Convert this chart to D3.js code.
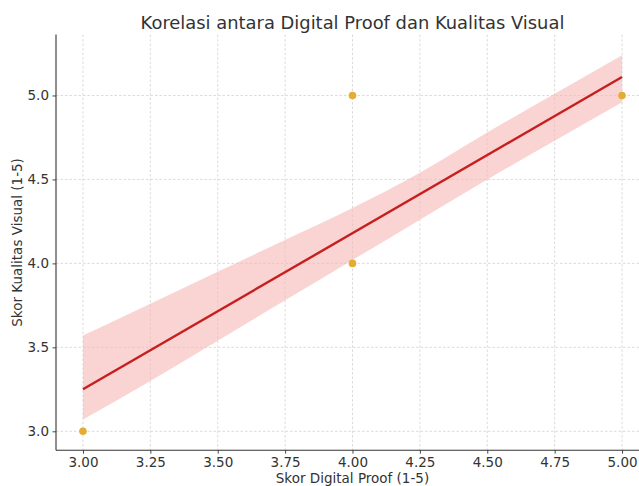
<!DOCTYPE html>
<html>
<head>
<meta charset="utf-8">
<script src="https://cdn.jsdelivr.net/npm/d3@7"></script>
<style>
  html, body { margin: 0; padding: 0; background: #ffffff; }
  svg { display: block; font-family: "DejaVu Sans", sans-serif; }
</style>
</head>
<body>
<svg id="chart" width="639" height="486"></svg>
<script>
// Survey scores: digital proof vs. visual quality
const proofScores  = [3, 4, 4, 5];
const visualScores = [3, 4, 5, 5];

// Fitted regression line (endpoints)
const fitX = [3, 5];
const fitY = [3.25, 5.11];

// Confidence band around the fit
const bandX     = [3, 3.25, 3.5, 3.75, 4, 4.25, 4.5, 4.75, 5];
const bandUpper = [3.57, 3.76, 3.95, 4.14, 4.33, 4.54, 4.78, 5.01, 5.24];
const bandLower = [3.07, 3.30, 3.54, 3.78, 4.02, 4.26, 4.50, 4.73, 4.96];

const xTicks = [3.00, 3.25, 3.50, 3.75, 4.00, 4.25, 4.50, 4.75, 5.00];
const yTicks = [3.0, 3.5, 4.0, 4.5, 5.0];

const titleText = "Korelasi antara Digital Proof dan Kualitas Visual";
const xLabel = "Skor Digital Proof (1-5)";
const yLabel = "Skor Kualitas Visual (1-5)";

const svg = d3.select("#chart");
const plotLeft = 56, plotRight = 649, plotTop = 34.6, plotBottom = 450.2;

const x = d3.scaleLinear().domain([2.9, 5.1]).range([plotLeft, plotRight]);
const y = d3.scaleLinear().domain([2.8875, 5.3625]).range([plotBottom, plotTop]);

const textColor = "#333333";
const tickFont = "13.5px";

// grid
const grid = svg.append("g").attr("class", "grid");
grid.selectAll("line.gx").data(xTicks).join("line")
  .attr("class", "gx")
  .attr("x1", d => x(d)).attr("x2", d => x(d))
  .attr("y1", plotTop).attr("y2", plotBottom)
  .attr("stroke", "#d2d2d2").attr("stroke-width", 0.8)
  .attr("stroke-dasharray", "2.5,2");
grid.selectAll("line.gy").data(yTicks).join("line")
  .attr("class", "gy")
  .attr("x1", plotLeft).attr("x2", plotRight)
  .attr("y1", d => y(d)).attr("y2", d => y(d))
  .attr("stroke", "#d2d2d2").attr("stroke-width", 0.8)
  .attr("stroke-dasharray", "2.5,2");

// confidence band
const band = bandX.map((v, i) => ({ x: v, lo: bandLower[i], hi: bandUpper[i] }));
svg.append("path")
  .datum(band)
  .attr("fill", "#f7b5b5")
  .attr("fill-opacity", 0.6)
  .attr("d", d3.area()
    .x(d => x(d.x))
    .y0(d => y(d.lo))
    .y1(d => y(d.hi))
    .curve(d3.curveMonotoneX));

// scatter points
svg.append("g").selectAll("circle")
  .data(proofScores.map((v, i) => [v, visualScores[i]]))
  .join("circle")
  .attr("cx", d => x(d[0]))
  .attr("cy", d => y(d[1]))
  .attr("r", 3.8)
  .attr("fill", "#e3ad34");

// regression line
svg.append("path")
  .datum(fitX.map((v, i) => [v, fitY[i]]))
  .attr("fill", "none")
  .attr("stroke", "#c61f1f")
  .attr("stroke-width", 2.4)
  .attr("d", d3.line().x(d => x(d[0])).y(d => y(d[1])));

// axes
const xAxis = d3.axisBottom(x).tickValues(xTicks).tickFormat(d3.format(".2f"))
  .tickSize(3.5).tickPadding(3.5);
const yAxis = d3.axisLeft(y).tickValues(yTicks).tickFormat(d3.format(".1f"))
  .tickSize(3.5).tickPadding(3.5);

const gx = svg.append("g").attr("transform", `translate(0,${plotBottom})`).call(xAxis);
const gy = svg.append("g").attr("transform", `translate(${plotLeft},0)`).call(yAxis);

[gx, gy].forEach(g => {
  g.select(".domain").attr("stroke", "#333333").attr("stroke-width", 1.1);
  g.selectAll(".tick line").attr("stroke", "#333333").attr("stroke-width", 0.9);
  g.selectAll(".tick text").attr("fill", textColor)
    .style("font-family", "'DejaVu Sans', sans-serif").style("font-size", tickFont);
});
gx.select(".domain").attr("d", `M${plotLeft},0H${plotRight}`);
gy.select(".domain").attr("d", `M0,${plotBottom}V${plotTop}`);

// title and axis labels
svg.append("text")
  .attr("x", (plotLeft + plotRight) / 2).attr("y", 29)
  .attr("text-anchor", "middle")
  .attr("fill", textColor)
  .style("font-size", "17.9px")
  .text(titleText);

svg.append("text")
  .attr("x", (plotLeft + plotRight) / 2).attr("y", 483)
  .attr("text-anchor", "middle")
  .attr("fill", textColor)
  .style("font-size", "13.5px")
  .text(xLabel);

svg.append("text")
  .attr("transform", `translate(22,${(plotTop + plotBottom) / 2}) rotate(-90)`)
  .attr("text-anchor", "middle")
  .attr("fill", textColor)
  .style("font-size", "13.5px")
  .text(yLabel);
</script>
</body>
</html>
